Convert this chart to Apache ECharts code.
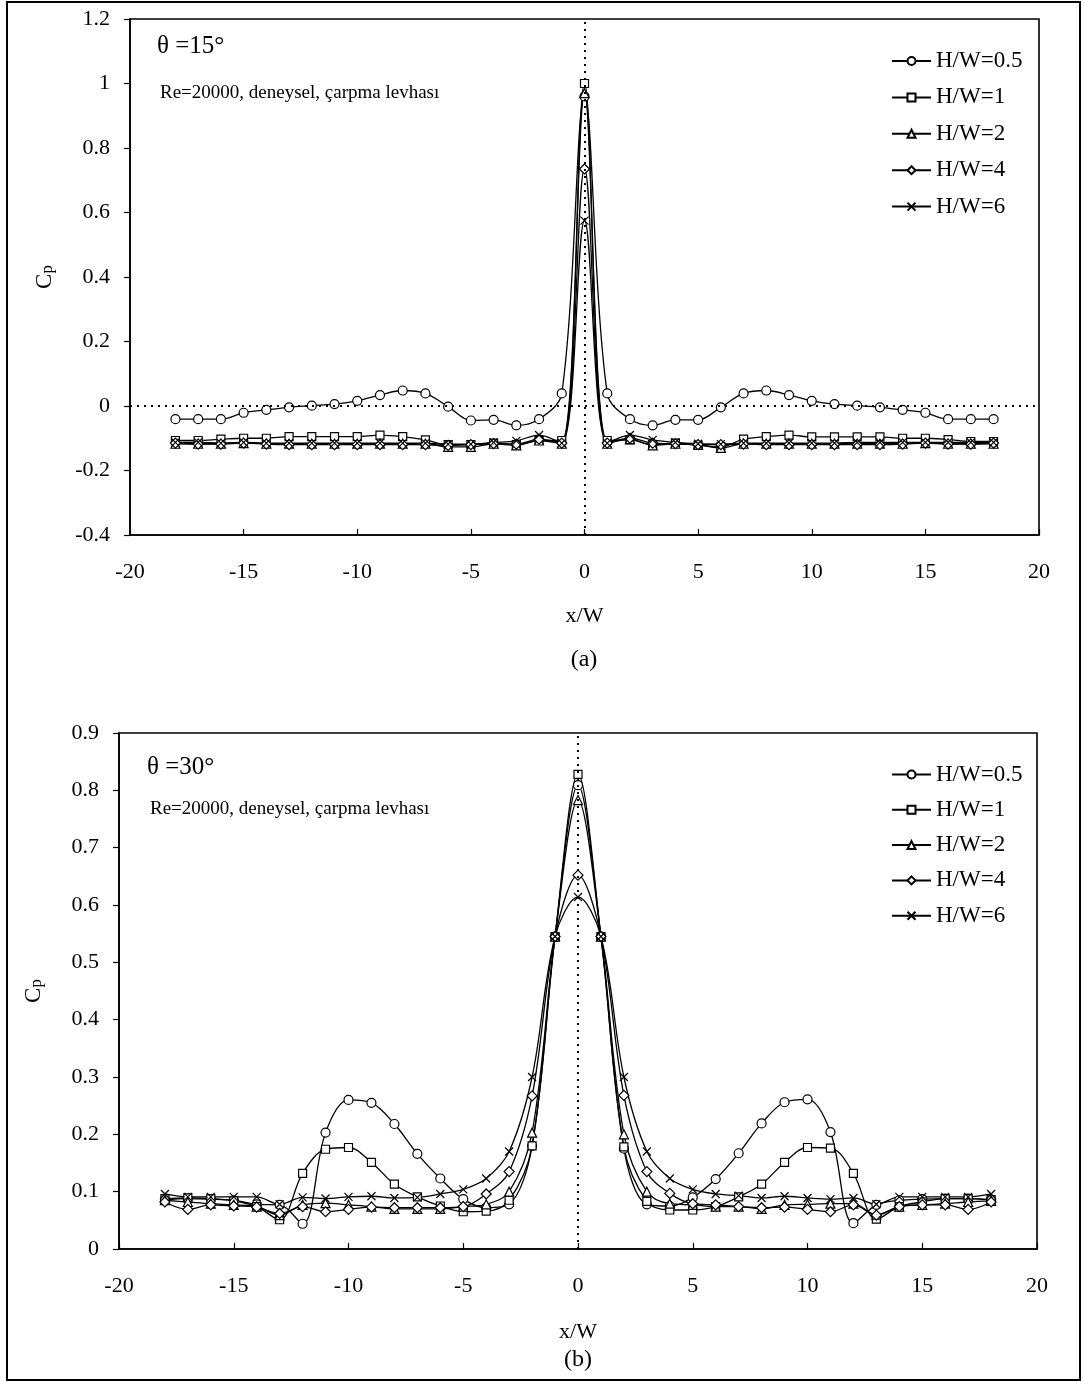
<!DOCTYPE html>
<html>
<head>
<meta charset="utf-8">
<script src="https://cdn.jsdelivr.net/npm/echarts@6/dist/echarts.min.js"></script>
<style>
html,body{margin:0;padding:0;background:#fff;}
#chart{width:1084px;height:1382px;}
</style>
</head>
<body>
<div id="chart"></div>
<script>
// ---------- DATA ----------
const xVals = [-18,-17,-16,-15,-14,-13,-12,-11,-10,-9,-8,-7,-6,-5,-4,-3,-2,-1,0,1,2,3,4,5,6,7,8,9,10,11,12,13,14,15,16,17,18];
const seriesNames = ["H/W=0.5","H/W=1","H/W=2","H/W=4","H/W=6"];

// (a) theta = 15 deg
const a_hw05 = [-0.041,-0.041,-0.041,-0.021,-0.012,-0.004,0.001,0.006,0.016,0.034,0.048,0.039,-0.002,-0.045,-0.043,-0.060,-0.041,0.039,0.960,0.039,-0.041,-0.060,-0.043,-0.043,-0.004,0.039,0.048,0.034,0.016,0.006,0.001,-0.004,-0.012,-0.021,-0.041,-0.041,-0.041];
const a_hw1  = [-0.107,-0.107,-0.103,-0.100,-0.100,-0.095,-0.095,-0.095,-0.095,-0.090,-0.095,-0.105,-0.120,-0.120,-0.115,-0.120,-0.107,-0.107,1.000,-0.107,-0.105,-0.120,-0.115,-0.122,-0.127,-0.103,-0.095,-0.090,-0.096,-0.096,-0.096,-0.096,-0.100,-0.100,-0.104,-0.110,-0.110];
const a_hw2  = [-0.117,-0.117,-0.117,-0.115,-0.117,-0.117,-0.117,-0.117,-0.117,-0.117,-0.117,-0.117,-0.127,-0.127,-0.117,-0.122,-0.107,-0.117,0.970,-0.117,-0.103,-0.122,-0.117,-0.120,-0.130,-0.117,-0.117,-0.117,-0.117,-0.117,-0.117,-0.117,-0.117,-0.115,-0.117,-0.117,-0.117];
const a_hw4  = [-0.115,-0.118,-0.118,-0.115,-0.118,-0.120,-0.120,-0.120,-0.120,-0.120,-0.120,-0.120,-0.122,-0.120,-0.117,-0.118,-0.103,-0.115,0.735,-0.115,-0.100,-0.115,-0.117,-0.120,-0.120,-0.118,-0.120,-0.120,-0.120,-0.120,-0.120,-0.120,-0.118,-0.115,-0.118,-0.118,-0.115];
const a_hw6  = [-0.113,-0.113,-0.115,-0.113,-0.115,-0.115,-0.115,-0.115,-0.115,-0.115,-0.115,-0.115,-0.118,-0.118,-0.113,-0.108,-0.090,-0.115,0.575,-0.115,-0.090,-0.105,-0.113,-0.117,-0.118,-0.115,-0.115,-0.115,-0.115,-0.115,-0.113,-0.113,-0.113,-0.113,-0.113,-0.113,-0.113];

// (b) theta = 30 deg
const b_hw05 = [0.086,0.088,0.087,0.085,0.078,0.077,0.044,0.203,0.260,0.255,0.218,0.166,0.123,0.087,0.072,0.078,0.180,0.545,0.809,0.545,0.175,0.078,0.075,0.090,0.122,0.167,0.219,0.256,0.261,0.204,0.045,0.077,0.085,0.087,0.088,0.088,0.086];
const b_hw1  = [0.088,0.089,0.088,0.084,0.074,0.051,0.132,0.174,0.177,0.151,0.113,0.091,0.075,0.065,0.066,0.085,0.180,0.545,0.828,0.545,0.178,0.083,0.068,0.068,0.074,0.091,0.113,0.151,0.177,0.176,0.132,0.052,0.074,0.082,0.088,0.088,0.086];
const b_hw2  = [0.085,0.082,0.079,0.077,0.074,0.059,0.077,0.080,0.077,0.074,0.070,0.070,0.070,0.074,0.078,0.100,0.203,0.545,0.783,0.545,0.200,0.100,0.079,0.077,0.074,0.074,0.070,0.077,0.078,0.079,0.079,0.060,0.074,0.077,0.079,0.082,0.084];
const b_hw4  = [0.082,0.069,0.077,0.075,0.073,0.062,0.074,0.065,0.069,0.073,0.072,0.072,0.072,0.074,0.096,0.135,0.267,0.545,0.652,0.545,0.268,0.135,0.097,0.079,0.077,0.074,0.072,0.073,0.069,0.065,0.077,0.059,0.074,0.077,0.077,0.069,0.082];
const b_hw6  = [0.096,0.091,0.091,0.091,0.091,0.078,0.090,0.088,0.091,0.092,0.089,0.090,0.096,0.104,0.123,0.170,0.300,0.545,0.614,0.545,0.300,0.170,0.123,0.104,0.096,0.093,0.089,0.092,0.089,0.087,0.089,0.078,0.091,0.091,0.091,0.091,0.096];

const xTicks = {min:-20, max:20, interval:5};
const aTicks = {min:-0.4, max:1.2, interval:0.2};
const bTicks = {min:0, max:0.9, interval:0.1};

// ---------- STYLE ----------
const FONT = '"Liberation Serif", "Times New Roman", serif';
const crossPath = 'path://M0,0L10,10M10,0L0,10';
const symbols = ['circle','rect','triangle','diamond',crossPath];
const symSizes = [9,8,9,10,8];

function mkSeries(arr, idx, gi){
  return {
    name: seriesNames[idx],
    type:'line',
    xAxisIndex: gi, yAxisIndex: gi,
    data: xVals.map((x,i)=>[x, arr[i]]),
    smooth: 0.35,
    symbol: symbols[idx],
    symbolSize: symSizes[idx],
    showAllSymbol: true,
    lineStyle:{color:'#000', width:1.3, type:'solid'},
    itemStyle:{color: idx===4 ? '#000' : '#fff', borderColor:'#000', borderWidth:1.2, borderType:'solid'},
    emphasis:{disabled:true},
    animation:false,
    z: 3
  };
}

function xAxisCfg(gi, gap){
  return {
    gridIndex: gi, type:'value', min:xTicks.min, max:xTicks.max, interval:xTicks.interval,
    name:'x/W', nameLocation:'middle', nameGap: gap,
    nameTextStyle:{fontFamily:FONT, fontSize:22, color:'#000'},
    axisLine:{onZero:false, lineStyle:{color:'#000', width:1.6}},
    axisTick:{inside:true, length:6, lineStyle:{color:'#000', width:1.2}},
    axisLabel:{fontFamily:FONT, fontSize:22, color:'#000', margin:26},
    splitLine:{show:false}
  };
}
function yAxisCfg(gi, t){
  return {
    gridIndex: gi, type:'value', min:t.min, max:t.max, interval:t.interval,
    name:'C{s|p}', nameLocation:'middle', nameGap: 74, nameRotate: 90,
    nameTextStyle:{fontFamily:FONT, fontSize:23, color:'#000',
      rich:{s:{fontFamily:FONT, fontSize:17, color:'#000', verticalAlign:'bottom'}}},
    axisLine:{onZero:false, lineStyle:{color:'#000', width:1.6}},
    axisTick:{inside:false, length:6, lineStyle:{color:'#000', width:1.2}},
    axisLabel:{fontFamily:FONT, fontSize:22, color:'#000', margin:20,
      formatter: v => String(Math.round(v*10)/10)},
    splitLine:{show:false}
  };
}

const series = [];
[a_hw05,a_hw1,a_hw2,a_hw4,a_hw6].forEach((arr,i)=>series.push(mkSeries(arr,i,0)));
[b_hw05,b_hw1,b_hw2,b_hw4,b_hw6].forEach((arr,i)=>series.push(mkSeries(arr,i,1)));

// dotted reference lines
const dotted = {color:'#000', width:2, type:[2,5]};
series.push({
  type:'line', xAxisIndex:0, yAxisIndex:0, data:[], silent:true,
  markLine:{symbol:'none', silent:true, label:{show:false}, animation:false,
    lineStyle:dotted, data:[{xAxis:0},{yAxis:0}]}
});
series.push({
  type:'line', xAxisIndex:1, yAxisIndex:1, data:[], silent:true,
  markLine:{symbol:'none', silent:true, label:{show:false}, animation:false,
    lineStyle:dotted, data:[{xAxis:0}]}
});

function legendCfg(top, gap){
  return {
    orient:'vertical', left: 886, top: top,
    itemWidth: 39, itemHeight: 10, itemGap: gap,
    textStyle:{fontFamily:FONT, fontSize:23, color:'#000', lineHeight:23},
    data: seriesNames,
    selectedMode:false
  };
}

const option = {
  animation:false,
  backgroundColor:'#fff',
  grid:[
    {left:130, right:45, top:19, height:516, show:true, borderColor:'#000', borderWidth:1.6, backgroundColor:'transparent'},
    {left:119, right:47, top:733, height:516, show:true, borderColor:'#000', borderWidth:1.6, backgroundColor:'transparent'}
  ],
  xAxis:[xAxisCfg(0, 70), xAxisCfg(1, 72)],
  yAxis:[yAxisCfg(0,aTicks), yAxisCfg(1,bTicks)],
  legend:[legendCfg(44.5, 13.4), legendCfg(758, 12.3)],
  series: series,
  graphic:[
    {type:'rect', shape:{x:7, y:2, width:1073, height:1378}, style:{fill:'none', stroke:'#000', lineWidth:2}, z:-1},
    {type:'text', left:157, top:34, style:{text:'\u03B8 =15\u00B0', font:'25px '+FONT, fill:'#000'}},
    {type:'text', left:160, top:84, style:{text:'Re=20000, deneysel, \u00E7arpma levhas\u0131', font:'19px '+FONT, fill:'#000'}},
    {type:'text', left:147, top:755, style:{text:'\u03B8 =30\u00B0', font:'25px '+FONT, fill:'#000'}},
    {type:'text', left:150, top:800, style:{text:'Re=20000, deneysel, \u00E7arpma levhas\u0131', font:'19px '+FONT, fill:'#000'}},
    {type:'text', x:584, y:660, style:{text:'(a)', font:'24px '+FONT, fill:'#000', align:'center', verticalAlign:'middle'}},
    {type:'text', x:578, y:1360, style:{text:'(b)', font:'24px '+FONT, fill:'#000', align:'center', verticalAlign:'middle'}}
  ]
};

const chart = echarts.init(document.getElementById('chart'), null, {renderer:'canvas'});
chart.setOption(option);
</script>
</body>
</html>
